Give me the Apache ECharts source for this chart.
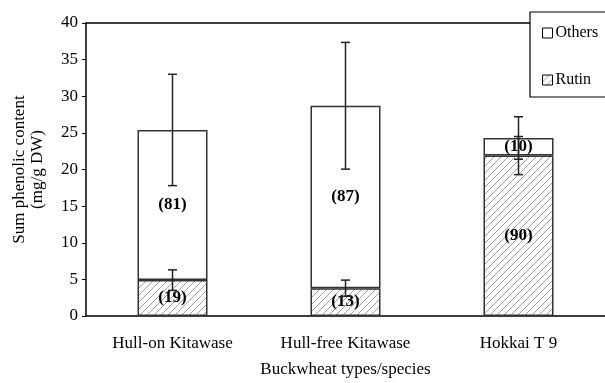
<!DOCTYPE html>
<html><head><meta charset="utf-8">
<script src="https://cdn.jsdelivr.net/npm/echarts@6/dist/echarts.min.js"></script>
<style>html,body{margin:0;padding:0;background:#fff}#c{width:605px;height:383px}</style>
</head><body><div id="c"></div>
<script>
const categories = ['Hull-on Kitawase', 'Hull-free Kitawase', 'Hokkai T 9'];
const rutin = [4.9, 3.8, 21.9];
const others = [20.5, 24.9, 2.4];
const rutinPct = [19, 13, 90];
const othersPct = [81, 87, 10];
const totalErr = [7.6, 8.65, 2.9];
const rutinErr = [1.4, 1.1, 2.6];
const yTicks = [0, 5, 10, 15, 20, 25, 30, 35, 40];

const FONT = 'Liberation Serif';

function hatch() {
  const s = 7;
  const c = document.createElement('canvas');
  c.width = s; c.height = s;
  const g = c.getContext('2d');
  g.fillStyle = '#fff'; g.fillRect(0, 0, s, s);
  g.strokeStyle = '#777'; g.lineWidth = 0.7;
  g.beginPath();
  g.moveTo(0, s); g.lineTo(s, 0);
  g.moveTo(-1, 1); g.lineTo(1, -1);
  g.moveTo(s - 1, s + 1); g.lineTo(s + 1, s - 1);
  g.stroke();
  return c;
}

const totals = rutin.map((v, i) => v + others[i]);
const totalErrData = totals.map((t, i) => [i, t - totalErr[i], t + totalErr[i]]);
const rutinErrData = rutin.map((r, i) => [i, r - rutinErr[i], r + rutinErr[i]]);

function errRender(params, api) {
  const x = api.value(0);
  const lo = api.coord([x, api.value(1)]);
  const hi = api.coord([x, api.value(2)]);
  const hw = 4.5;
  const st = { stroke: '#222', lineWidth: 1.5 };
  return {
    type: 'group',
    children: [
      { type: 'line', shape: { x1: hi[0], y1: hi[1], x2: lo[0], y2: lo[1] }, style: st },
      { type: 'line', shape: { x1: hi[0] - hw, y1: hi[1], x2: hi[0] + hw, y2: hi[1] }, style: st },
      { type: 'line', shape: { x1: lo[0] - hw, y1: lo[1], x2: lo[0] + hw, y2: lo[1] }, style: st }
    ]
  };
}

const chart = echarts.init(document.getElementById('c'), null, { renderer: 'canvas' });
const labelStyle = { show: true, position: 'inside', fontFamily: FONT, fontWeight: 'bold', fontSize: 17, color: '#000' };
chart.setOption({
  animation: false,
  textStyle: { fontFamily: FONT },
  grid: { left: 86, right: 0, top: 23, bottom: 63 },
  legend: {
    data: ['Others', 'Rutin'],
    orient: 'vertical',
    left: 530, top: 12,
    padding: [13, 40, 9, 12],
    itemGap: 31,
    itemWidth: 10, itemHeight: 10,
    icon: 'rect',
    backgroundColor: '#fff',
    borderColor: '#000', borderWidth: 1.2,
    itemStyle: { borderWidth: 1, borderColor: '#000' },
    textStyle: { fontFamily: FONT, fontSize: 16, color: '#000', padding: [0, 0, 0, -2] }
  },
  xAxis: [{
    type: 'category', data: categories,
    axisLine: { lineStyle: { color: '#000', width: 1.5 } },
    axisTick: { inside: true, length: 5, lineStyle: { color: '#000' } },
    axisLabel: { fontFamily: FONT, fontSize: 17, color: '#000', margin: 19 },
    name: 'Buckwheat types/species', nameLocation: 'middle', nameGap: 45,
    nameTextStyle: { fontFamily: FONT, fontSize: 17, color: '#000' }
  }, {
    type: 'category', data: categories, position: 'top',
    axisLine: { lineStyle: { color: '#000', width: 1.5 } },
    axisTick: { show: false }, axisLabel: { show: false }
  }],
  yAxis: {
    type: 'value', min: 0, max: 40, interval: 5,
    axisLine: { show: true, lineStyle: { color: '#000', width: 1.5 } },
    axisTick: { show: true, length: 4, lineStyle: { color: '#000' } },
    splitLine: { show: false },
    axisLabel: { fontFamily: FONT, fontSize: 17, color: '#000', margin: 8,
      formatter: v => yTicks.includes(v) ? String(v) : '' },
    name: 'Sum phenolic content\n(mg/g DW)', nameLocation: 'middle', nameGap: 39,
    nameTextStyle: { fontFamily: FONT, fontSize: 17, color: '#000', lineHeight: 18 }
  },
  series: [
    {
      name: 'Rutin', type: 'bar', stack: 's', barWidth: 70, data: rutin,
      itemStyle: { color: { image: hatch(), repeat: 'repeat' }, borderColor: '#333', borderWidth: 1.5 },
      label: Object.assign({}, labelStyle, { formatter: p => '(' + rutinPct[p.dataIndex] + ')' })
    },
    {
      name: 'Others', type: 'bar', stack: 's', barWidth: 70, data: others,
      itemStyle: { color: '#fff', borderColor: '#333', borderWidth: 1.5 },
      label: Object.assign({}, labelStyle, { formatter: p => '(' + othersPct[p.dataIndex] + ')' })
    },
    { type: 'custom', renderItem: errRender, data: totalErrData, z: 10, encode: { x: 0, y: [1, 2] } },
    { type: 'custom', renderItem: errRender, data: rutinErrData, z: 10, encode: { x: 0, y: [1, 2] } }
  ]
});
</script></body></html>
